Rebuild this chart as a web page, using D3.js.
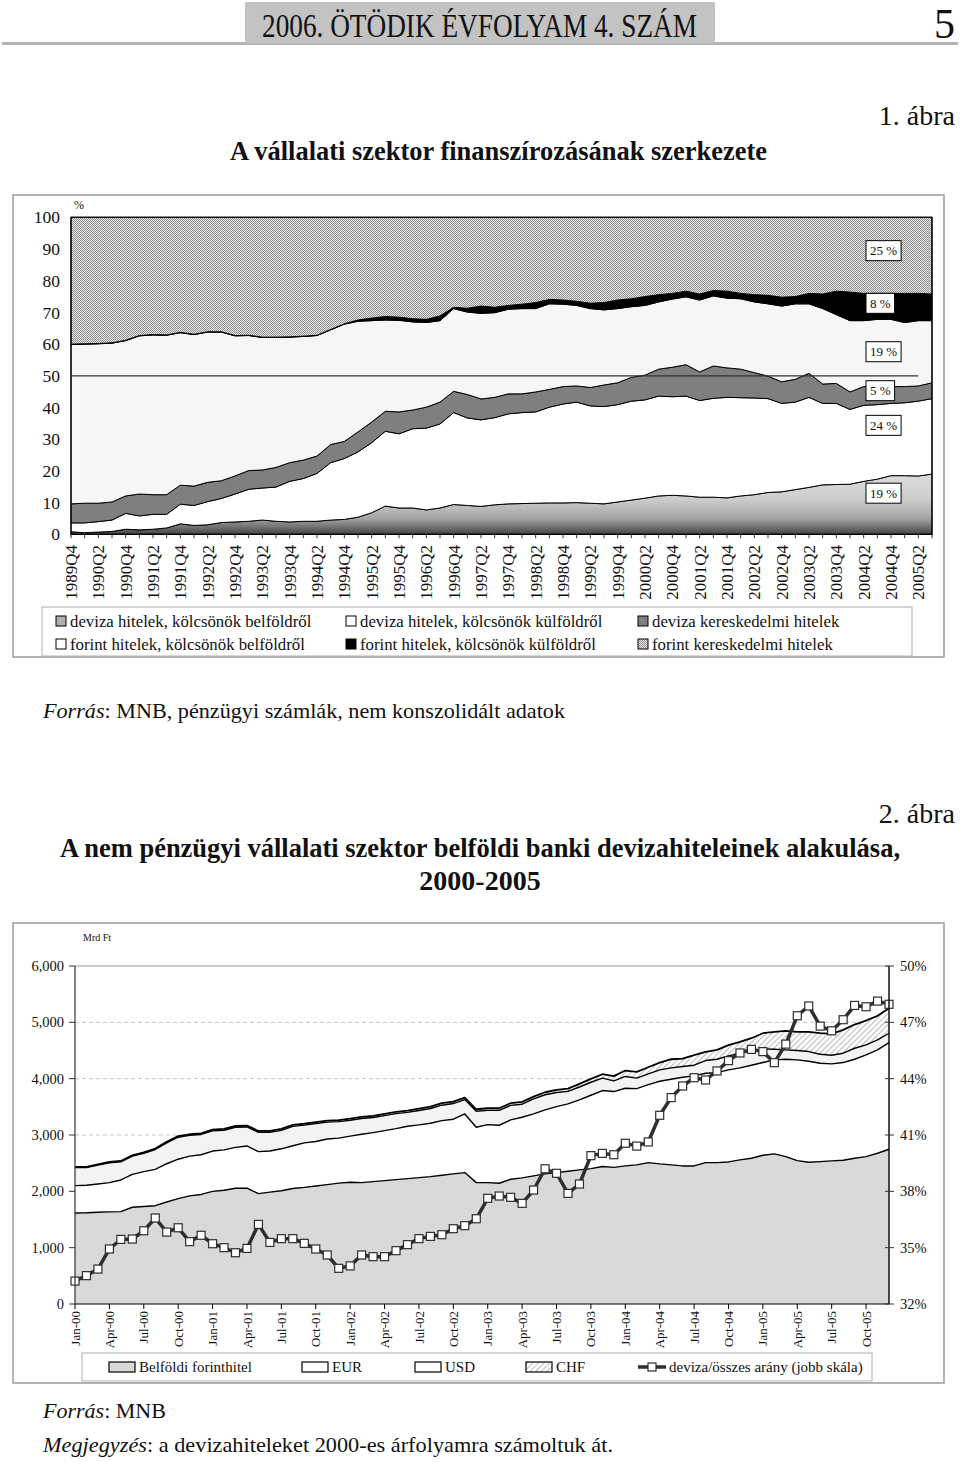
<!DOCTYPE html>
<html><head><meta charset="utf-8">
<script src="https://cdn.jsdelivr.net/npm/d3@7"></script>
<style>
body{margin:0;background:#fff}
svg{display:block}
text{font-family:"Liberation Serif","Times New Roman",serif;fill:#111}
</style>
</head><body>
<svg id="c" width="960" height="1462"></svg>
<script>
// ---------------- DATA: chart 1 (quarterly shares, %) ----------------
const quarters = ["1989Q4","1990Q1","1990Q2","1990Q3","1990Q4","1991Q1","1991Q2","1991Q3","1991Q4","1992Q1","1992Q2","1992Q3","1992Q4","1993Q1","1993Q2","1993Q3","1993Q4","1994Q1","1994Q2","1994Q3","1994Q4","1995Q1","1995Q2","1995Q3","1995Q4","1996Q1","1996Q2","1996Q3","1996Q4","1997Q1","1997Q2","1997Q3","1997Q4","1998Q1","1998Q2","1998Q3","1998Q4","1999Q1","1999Q2","1999Q3","1999Q4","2000Q1","2000Q2","2000Q3","2000Q4","2001Q1","2001Q2","2001Q3","2001Q4","2002Q1","2002Q2","2002Q3","2002Q4","2003Q1","2003Q2","2003Q3","2003Q4","2004Q1","2004Q2","2004Q3","2004Q4","2005Q1","2005Q2","2005Q3"];
const quarterTickLabels = ["1989Q4","1990Q2","1990Q4","1991Q2","1991Q4","1992Q2","1992Q4","1993Q2","1993Q4","1994Q2","1994Q4","1995Q2","1995Q4","1996Q2","1996Q4","1997Q2","1997Q4","1998Q2","1998Q4","1999Q2","1999Q4","2000Q2","2000Q4","2001Q2","2001Q4","2002Q2","2002Q4","2003Q2","2003Q4","2004Q2","2004Q4","2005Q2"];
const pctTicks = [0,10,20,30,40,50,60,70,80,90,100];

const devizaBel = [0.8,0.5,0.7,0.9,1.6,1.4,1.6,2.0,3.3,2.8,3.0,3.7,3.9,4.1,4.5,4.1,3.9,4.1,4.1,4.5,4.7,5.4,6.8,8.9,8.3,8.3,7.7,8.3,9.4,9.1,8.8,9.3,9.6,9.7,9.8,9.9,9.9,10.0,9.8,9.6,10.2,10.8,11.4,12.1,12.3,12.1,11.7,11.7,11.5,12.1,12.5,13.2,13.4,14.1,14.8,15.6,15.7,15.8,16.7,17.4,18.5,18.5,18.4,19.0];
const devizaKul = [2.8,3.1,3.3,3.6,5.0,4.4,4.7,4.3,6.2,6.3,7.3,7.6,8.8,10.1,10.1,10.8,12.8,13.5,15.1,18.1,19.2,20.6,22.1,23.6,23.4,25.0,25.8,26.5,29.0,27.6,27.3,27.5,28.4,28.7,28.8,30.2,31.2,31.7,30.7,30.7,30.7,31.2,31.0,31.5,31.1,31.5,30.5,31.2,31.7,31.0,30.5,29.6,27.9,27.6,28.4,25.7,25.6,23.6,24.0,23.5,22.8,23.0,23.6,23.8];
const devizaKer = [6.0,6.2,5.8,5.7,5.5,6.9,6.2,6.2,6.0,6.1,6.1,5.6,5.7,5.9,5.7,6.2,5.9,5.8,5.5,5.7,5.4,6.3,6.5,6.3,6.9,5.9,6.6,6.9,6.7,7.4,6.6,6.4,6.3,5.9,6.3,5.6,5.5,5.1,5.8,6.8,6.9,7.5,7.8,8.5,9.3,9.9,9.0,10.2,9.3,9.0,8.0,7.1,6.8,7.2,7.6,6.1,6.3,5.5,5.9,5.7,5.3,5.1,4.8,5.0];
const forintBel = [50.3,50.2,50.3,50.1,49.0,49.9,50.4,50.3,48.1,47.8,47.4,46.9,44.2,42.6,41.8,41.0,39.6,39.0,38.0,36.2,37.0,34.9,32.0,28.8,28.9,27.8,26.7,25.7,26.1,26.0,27.0,26.7,26.7,26.9,26.3,27.0,26.0,25.4,24.9,23.7,23.4,22.3,22.0,21.2,21.5,21.4,22.7,22.1,22.0,22.2,22.3,22.8,23.9,23.8,21.9,23.8,21.7,22.5,20.8,21.2,21.2,20.2,20.6,19.6];
const forintKul = [0.1,0.1,0.1,0.1,0.1,0.1,0.1,0.1,0.1,0.1,0.1,0.1,0.1,0.1,0.1,0.1,0.1,0.1,0.1,0.1,0.1,0.4,0.8,1.1,1.0,1.0,1.0,1.5,0.4,1.2,2.3,1.7,1.2,1.4,1.9,1.4,1.3,1.3,1.7,2.3,2.7,2.5,2.8,2.3,1.8,1.8,1.9,1.7,2.2,1.7,2.3,2.7,2.8,2.3,3.3,4.6,7.4,9.0,8.6,8.2,8.2,9.2,8.6,8.4];
const forintKer = [40.0,39.9,39.8,39.6,38.8,37.3,37.0,37.1,36.3,36.9,36.1,36.1,37.3,37.2,37.8,37.8,37.7,37.5,37.2,35.4,33.6,32.4,31.8,31.3,31.5,32.0,32.2,31.1,28.4,28.7,28.0,28.4,27.8,27.4,26.9,25.9,26.1,26.5,27.1,26.9,26.1,25.7,25.0,24.4,24.0,23.3,24.2,23.1,23.3,24.0,24.4,24.6,25.2,25.0,24.0,24.2,23.3,23.6,24.0,24.0,24.0,24.0,24.0,24.2];
const topSeriesNames = ["deviza hitelek, kölcsönök belföldről","deviza hitelek, kölcsönök külföldről","deviza kereskedelmi hitelek","forint hitelek, kölcsönök belföldről","forint hitelek, kölcsönök külföldről","forint kereskedelmi hitelek"];
const endLabels = ["19 %","24 %","5 %","19 %","8 %","25 %"];

// ---------------- DATA: chart 2 (monthly, Mrd Ft) ----------------
const months = ["Jan-00","Feb-00","Mar-00","Apr-00","May-00","Jun-00","Jul-00","Aug-00","Sep-00","Oct-00","Nov-00","Dec-00",
"Jan-01","Feb-01","Mar-01","Apr-01","May-01","Jun-01","Jul-01","Aug-01","Sep-01","Oct-01","Nov-01","Dec-01",
"Jan-02","Feb-02","Mar-02","Apr-02","May-02","Jun-02","Jul-02","Aug-02","Sep-02","Oct-02","Nov-02","Dec-02",
"Jan-03","Feb-03","Mar-03","Apr-03","May-03","Jun-03","Jul-03","Aug-03","Sep-03","Oct-03","Nov-03","Dec-03",
"Jan-04","Feb-04","Mar-04","Apr-04","May-04","Jun-04","Jul-04","Aug-04","Sep-04","Oct-04","Nov-04","Dec-04",
"Jan-05","Feb-05","Mar-05","Apr-05","May-05","Jun-05","Jul-05","Aug-05","Sep-05","Oct-05","Nov-05","Dec-05"];
const monthTickLabels = ["Jan-00","Apr-00","Jul-00","Oct-00","Jan-01","Apr-01","Jul-01","Oct-01","Jan-02","Apr-02","Jul-02","Oct-02","Jan-03","Apr-03","Jul-03","Oct-03","Jan-04","Apr-04","Jul-04","Oct-04","Jan-05","Apr-05","Jul-05","Oct-05"];
const mrdTicks = [0,1000,2000,3000,4000,5000,6000];
const ratioTicks = [32,35,38,41,44,47,50];

const forint = [1616,1620,1630,1635,1640,1717,1730,1745,1810,1870,1920,1945,2000,2020,2055,2055,1960,1985,2010,2050,2070,2095,2120,2145,2160,2155,2172,2191,2208,2226,2244,2262,2285,2309,2333,2155,2155,2143,2214,2238,2274,2309,2333,2357,2380,2404,2440,2425,2451,2469,2510,2487,2469,2451,2451,2510,2510,2522,2558,2587,2641,2665,2617,2546,2516,2528,2540,2552,2587,2617,2676,2747];
const eur = [486,487,500,519,562,583,620,645,680,700,705,705,715,715,725,750,745,732,745,760,790,790,810,800,820,858,871,887,906,929,935,946,971,971,1041,983,1030,1030,1054,1077,1100,1136,1171,1195,1243,1302,1349,1346,1379,1355,1385,1467,1521,1575,1598,1587,1598,1634,1633,1652,1645,1668,1728,1787,1794,1746,1722,1734,1758,1805,1835,1894];
const usd = [319,316,337,354,323,325,324,353,372,391,368,360,359,350,358,338,344,331,328,343,315,319,299,293,283,280,267,266,265,246,257,262,273,278,254,283,253,264,257,232,266,270,250,222,229,230,220,189,209,186,190,202,201,189,190,225,237,248,261,260,242,190,166,166,171,160,154,166,195,177,177,165];
const chf = [12,12,13,13,14,15,16,17,18,19,20,20,21,22,22,23,23,24,24,25,25,26,26,27,27,28,29,30,31,32,33,34,35,35,36,36,37,38,39,40,42,44,46,50,55,60,70,85,105,110,118,130,154,142,177,153,166,190,201,219,279,307,337,331,349,373,379,414,421,433,427,445];
const ratio = [33.22,33.51,33.86,34.93,35.44,35.46,35.90,36.58,35.83,36.06,35.32,35.66,35.21,35.00,34.73,34.96,36.24,35.28,35.48,35.48,35.23,34.93,34.61,33.90,34.03,34.61,34.52,34.52,34.84,35.16,35.48,35.60,35.69,36.01,36.17,36.54,37.63,37.75,37.68,37.36,38.07,39.20,38.96,37.89,38.39,39.90,40.02,39.95,40.56,40.41,40.63,42.05,42.99,43.61,44.05,43.93,44.41,44.96,45.37,45.56,45.44,44.85,45.84,47.35,47.87,46.80,46.55,47.14,47.90,47.83,48.13,47.96];
const botSeriesNames = ["Belföldi forinthitel","EUR","USD","CHF"];
const ratioName = "deviza/összes arány (jobb skála)";

// ---------------- SVG ----------------
const svg = d3.select("#c");
const defs = svg.append("defs");

// header
svg.append("line").attr("x1",2).attr("x2",958).attr("y1",43.5).attr("y2",43.5).attr("stroke","#b4b4b4").attr("stroke-width",3);
svg.append("rect").attr("x",245).attr("y",2).attr("width",470).attr("height",41).attr("fill","#c3c3c3");
svg.append("text").attr("x",262).attr("y",37).attr("font-size",33).attr("textLength",435).attr("lengthAdjust","spacingAndGlyphs").text("2006. ÖTÖDIK ÉVFOLYAM 4. SZÁM");
svg.append("text").attr("x",955).attr("y",38).attr("font-size",42).attr("text-anchor","end").text("5");

svg.append("text").attr("x",955).attr("y",125).attr("font-size",28).attr("text-anchor","end").text("1. ábra");
svg.append("text").attr("x",230).attr("y",160).attr("font-size",28).attr("font-weight","bold").attr("textLength",537).attr("lengthAdjust","spacingAndGlyphs").text("A vállalati szektor finanszírozásának szerkezete");

// ---------------- Chart 1 ----------------
const g1 = svg.append("g");
g1.append("rect").attr("x",13).attr("y",195).attr("width",931).attr("height",462).attr("fill","none").attr("stroke","#9a9a9a").attr("stroke-width",1.5);

const xTop = d3.scalePoint().domain(quarters).range([71,932]);
const yTop = d3.scaleLinear().domain([0,100]).range([534.3,217.3]);

const grad = defs.append("linearGradient").attr("id","gDevBel").attr("gradientUnits","userSpaceOnUse")
  .attr("x1",0).attr("x2",0).attr("y1",yTop(20)).attr("y2",yTop(0));
[[0,"#dedede"],[0.45,"#cdcdcd"],[0.75,"#a4a4a4"],[1,"#454545"]].forEach(s=>grad.append("stop").attr("offset",s[0]).attr("stop-color",s[1]));
const st = defs.append("pattern").attr("id","pStip").attr("width",2).attr("height",2).attr("patternUnits","userSpaceOnUse");
st.append("rect").attr("width",2).attr("height",2).attr("fill","#e8e8e8");
st.append("rect").attr("x",0).attr("y",0).attr("width",1).attr("height",1).attr("fill","#8e8e8e");
st.append("rect").attr("x",1).attr("y",1).attr("width",1).attr("height",1).attr("fill","#8e8e8e");
const hp = defs.append("pattern").attr("id","pHatch").attr("width",4).attr("height",4).attr("patternUnits","userSpaceOnUse").attr("patternTransform","rotate(45)");
hp.append("rect").attr("width",4).attr("height",4).attr("fill","#fff");
hp.append("line").attr("x1",0).attr("x2",0).attr("y1",0).attr("y2",4).attr("stroke","#8a8a8a").attr("stroke-width",1.2);

const topKeys = ["devizaBel","devizaKul","devizaKer","forintBel","forintKul","forintKer"];
const topSrc = {devizaBel,devizaKul,devizaKer,forintBel,forintKul,forintKer};
const topFill = {devizaBel:"url(#gDevBel)",devizaKul:"#ffffff",devizaKer:"#7f7f7f",forintBel:"#f6f6f6",forintKul:"#000000",forintKer:"url(#pStip)"};
const topSwatch = {devizaBel:"#b0b0b0",devizaKul:"#ffffff",devizaKer:"#7f7f7f",forintBel:"#ffffff",forintKul:"#000000",forintKer:"url(#pStip)"};
const topRows = quarters.map((q,i)=>{const r={q}; topKeys.forEach(k=>r[k]=topSrc[k][i]); return r;});
const stackTop = d3.stack().keys(topKeys)(topRows);
const areaTop = d3.area().x(d=>xTop(d.data.q)).y0(d=>yTop(d[0])).y1(d=>yTop(d[1]));
g1.append("g").selectAll("path").data(stackTop).join("path")
  .attr("d",areaTop).attr("fill",d=>topFill[d.key]).attr("stroke","#000").attr("stroke-width",1).attr("stroke-linejoin","round");

// 50% reference line
g1.append("line").attr("x1",71).attr("x2",xTop(quarters[quarters.length-2])).attr("y1",yTop(50)).attr("y2",yTop(50)).attr("stroke","#333").attr("stroke-width",1.3);
// plot border
g1.append("rect").attr("x",71).attr("y",yTop(100)).attr("width",861).attr("height",yTop(0)-yTop(100)).attr("fill","none").attr("stroke","#000").attr("stroke-width",1.2);
// x ticks
g1.append("g").selectAll("line").data(quarters).join("line")
  .attr("x1",d=>xTop(d)).attr("x2",d=>xTop(d)).attr("y1",yTop(0)).attr("y2",yTop(0)+4).attr("stroke","#000").attr("stroke-width",0.8);
g1.append("g").selectAll("text").data(quarterTickLabels).join("text")
  .attr("transform",d=>`translate(${xTop(d)},545) rotate(-90)`).attr("text-anchor","end").attr("dy","0.35em").attr("font-size",17).text(d=>d);
// y labels
g1.append("g").selectAll("text").data(pctTicks).join("text")
  .attr("x",60).attr("y",d=>yTop(d)).attr("dy","0.35em").attr("text-anchor","end").attr("font-size",17.5).text(d=>d);
g1.append("text").attr("x",74).attr("y",209).attr("font-size",12).text("%");

// end labels
const nudges = [-11,-11,0,0,-4,-5];
stackTop.forEach((s,i)=>{
  const d = s[s.length-1];
  const cy = yTop((d[0]+d[1])/2)+nudges[i];
  const gl = g1.append("g");
  const t = gl.append("text").attr("x",870).attr("y",cy).attr("dy","0.35em").attr("font-size",13).text(endLabels[i]);
  const w = t.node().getComputedTextLength();
  gl.insert("rect","text").attr("x",866).attr("y",cy-10).attr("width",w+8).attr("height",20).attr("fill","#fff").attr("stroke","#000").attr("stroke-width",1);
});

// legend 1
g1.append("rect").attr("x",42).attr("y",607).attr("width",870).attr("height",49).attr("fill","#fff").attr("stroke","#b0b0b0").attr("stroke-width",1);
const colX = [56,346,638];
topKeys.forEach((k,j)=>{
  const col = j%3, row = Math.floor(j/3);
  const lx = colX[col], ly = 621 + row*23;
  g1.append("rect").attr("x",lx).attr("y",ly-5).attr("width",10).attr("height",10).attr("fill",topSwatch[k]).attr("stroke","#000").attr("stroke-width",1);
  g1.append("text").attr("x",lx+14).attr("y",ly).attr("dy","0.35em").attr("font-size",16.8).text(topSeriesNames[j]);
});

// Source line
const src1 = svg.append("text").attr("x",43).attr("y",718).attr("font-size",22).attr("textLength",522).attr("lengthAdjust","spacingAndGlyphs");
src1.append("tspan").attr("font-style","italic").text("Forrás");
src1.append("tspan").text(": MNB, pénzügyi számlák, nem konszolidált adatok");

// ---------------- Chart 2 titles ----------------
svg.append("text").attr("x",955).attr("y",823).attr("font-size",28).attr("text-anchor","end").text("2. ábra");
svg.append("text").attr("x",60).attr("y",857).attr("font-size",28).attr("font-weight","bold").attr("textLength",840).attr("lengthAdjust","spacingAndGlyphs").text("A nem pénzügyi vállalati szektor belföldi banki devizahiteleinek alakulása,");
svg.append("text").attr("x",480).attr("y",890).attr("font-size",28).attr("font-weight","bold").attr("text-anchor","middle").text("2000-2005");

// ---------------- Chart 2 ----------------
const g2 = svg.append("g");
g2.append("rect").attr("x",13).attr("y",923).attr("width",931).attr("height",460).attr("fill","none").attr("stroke","#9a9a9a").attr("stroke-width",1.5);

const xBot = d3.scalePoint().domain(months).range([75,889]);
const yBot = d3.scaleLinear().domain([0,6000]).range([1304,966]);
const yRat = d3.scaleLinear().domain([32,50]).range([1304,966]);

// gridlines
g2.append("g").selectAll("line").data(mrdTicks.filter(v=>v>0&&v<6000)).join("line")
  .attr("x1",75).attr("x2",889).attr("y1",d=>yBot(d)).attr("y2",d=>yBot(d)).attr("stroke","#c8c8c8").attr("stroke-width",1).attr("stroke-dasharray","4,3");
g2.append("line").attr("x1",75).attr("x2",889).attr("y1",yBot(6000)).attr("y2",yBot(6000)).attr("stroke","#999").attr("stroke-width",1.2);

const botKeys = ["forint","eur","usd","chf"];
const botSrc = {forint,eur,usd,chf};
const botFill = {forint:"#d9d9d9",eur:"#ffffff",usd:"#f3f3f3",chf:"url(#pHatch)"};
const botSwatch = {forint:"#d9d9d9",eur:"#ffffff",usd:"#ffffff",chf:"url(#pHatch)"};
const botRows = months.map((m,i)=>{const r={m}; botKeys.forEach(k=>r[k]=botSrc[k][i]); return r;});
const stackBot = d3.stack().keys(botKeys)(botRows);
const areaBot = d3.area().x(d=>xBot(d.data.m)).y0(d=>yBot(d[0])).y1(d=>yBot(d[1]));
const lineTop = d3.line().x(d=>xBot(d.data.m)).y(d=>yBot(d[1]));
g2.append("g").selectAll("path").data(stackBot).join("path").attr("d",areaBot).attr("fill",d=>botFill[d.key]).attr("stroke","none");
g2.append("g").selectAll("path").data(stackBot).join("path").attr("d",lineTop).attr("fill","none")
  .attr("stroke","#000").attr("stroke-width",d=>d.key==="chf"?1.8:1.4).attr("stroke-linejoin","round");

// ratio line
const rLine = d3.line().x((d,i)=>xBot(months[i])).y(d=>yRat(d));
g2.append("path").attr("d",rLine(ratio)).attr("fill","none").attr("stroke","#2e2e2e").attr("stroke-width",3.5).attr("stroke-linejoin","round");
g2.append("g").selectAll("rect").data(ratio).join("rect")
  .attr("x",(d,i)=>xBot(months[i])-4).attr("y",d=>yRat(d)-4).attr("width",8).attr("height",8)
  .attr("fill","#fff").attr("stroke","#2e2e2e").attr("stroke-width",1.2);

// axes
g2.append("line").attr("x1",75).attr("x2",75).attr("y1",966).attr("y2",1304).attr("stroke","#333").attr("stroke-width",1.2);
g2.append("line").attr("x1",889).attr("x2",889).attr("y1",966).attr("y2",1304).attr("stroke","#000").attr("stroke-width",1.4);
g2.append("line").attr("x1",75).attr("x2",889).attr("y1",1304).attr("y2",1304).attr("stroke","#000").attr("stroke-width",1.2);
g2.append("g").selectAll("line").data(mrdTicks).join("line").attr("x1",69).attr("x2",75).attr("y1",d=>yBot(d)).attr("y2",d=>yBot(d)).attr("stroke","#333");
g2.append("g").selectAll("line").data(ratioTicks).join("line").attr("x1",885).attr("x2",894).attr("y1",d=>yRat(d)).attr("y2",d=>yRat(d)).attr("stroke","#333");
g2.append("g").selectAll("line").data(monthTickLabels).join("line").attr("x1",d=>xBot(d)).attr("x2",d=>xBot(d)).attr("y1",1304).attr("y2",1309).attr("stroke","#000");
g2.append("g").selectAll("text").data(mrdTicks).join("text").attr("x",64).attr("y",d=>yBot(d)).attr("dy","0.35em").attr("text-anchor","end").attr("font-size",14.5).text(d3.format(","));
g2.append("g").selectAll("text").data(ratioTicks).join("text").attr("x",900).attr("y",d=>yRat(d)).attr("dy","0.35em").attr("font-size",14.5).text(d=>d+"%");
g2.append("g").selectAll("text").data(monthTickLabels).join("text")
  .attr("transform",d=>`translate(${xBot(d)},1311) rotate(-90)`).attr("text-anchor","end").attr("dy","0.35em").attr("font-size",13).text(d=>d);
g2.append("text").attr("x",83).attr("y",941).attr("font-size",10).text("Mrd Ft");

// legend 2
g2.append("rect").attr("x",82).attr("y",1353).attr("width",790).attr("height",28).attr("fill","#fff").attr("stroke","#b0b0b0").attr("stroke-width",1);
const legX2 = [109,302,415,526];
botKeys.forEach((k,i)=>{
  g2.append("rect").attr("x",legX2[i]).attr("y",1362).attr("width",26).attr("height",10).attr("fill",botSwatch[k]).attr("stroke","#000").attr("stroke-width",1.2);
  g2.append("text").attr("x",legX2[i]+30).attr("y",1367).attr("dy","0.35em").attr("font-size",15).text(botSeriesNames[i]);
});
g2.append("line").attr("x1",638).attr("x2",666).attr("y1",1367).attr("y2",1367).attr("stroke","#2e2e2e").attr("stroke-width",3.5);
g2.append("rect").attr("x",648).attr("y",1363).attr("width",8).attr("height",8).attr("fill","#fff").attr("stroke","#2e2e2e").attr("stroke-width",1.2);
g2.append("text").attr("x",669).attr("y",1367).attr("dy","0.35em").attr("font-size",15).text(ratioName);

// footer
const f1 = svg.append("text").attr("x",43).attr("y",1418).attr("font-size",22);
f1.append("tspan").attr("font-style","italic").text("Forrás");
f1.append("tspan").text(": MNB");
const f2 = svg.append("text").attr("x",43).attr("y",1452).attr("font-size",22).attr("textLength",570).attr("lengthAdjust","spacingAndGlyphs");
f2.append("tspan").attr("font-style","italic").text("Megjegyzés");
f2.append("tspan").text(": a devizahiteleket 2000-es árfolyamra számoltuk át.");
</script>
</body></html>
